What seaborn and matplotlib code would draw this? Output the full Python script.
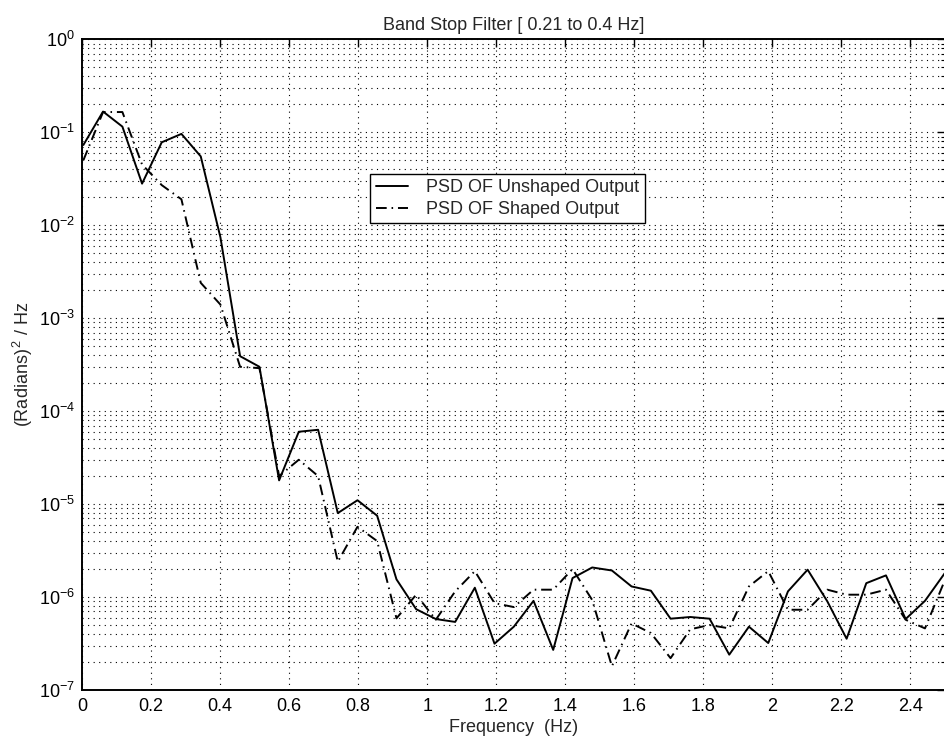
import matplotlib
matplotlib.use("Agg")
import matplotlib.pyplot as plt
import seaborn as sns
import pandas as pd
from matplotlib.ticker import (FixedLocator, FixedFormatter, NullFormatter,
                               NullLocator)

# ---------------- data ----------------
freq = [0.004, 0.061, 0.117, 0.174, 0.231, 0.288, 0.344, 0.401, 0.458, 0.514,
        0.571, 0.628, 0.684, 0.741, 0.798, 0.855, 0.911, 0.968, 1.025, 1.081,
        1.138, 1.195, 1.251, 1.308, 1.365, 1.421, 1.478, 1.535, 1.592, 1.648,
        1.705, 1.762, 1.818, 1.875, 1.932, 1.988, 2.045, 2.102, 2.159, 2.215,
        2.272, 2.329, 2.386, 2.442, 2.499]

psd_unshaped = [0.073, 0.167, 0.115, 0.028, 0.078, 0.096, 0.055, 0.0074, 3.9e-4, 3.0e-4,
                1.8e-5, 6.0e-5, 6.3e-5, 8.0e-6, 1.1e-5, 7.5e-6, 1.55e-6, 7.4e-7, 5.8e-7, 5.4e-7,
                1.26e-6, 3.15e-7, 4.8e-7, 9.1e-7, 2.7e-7, 1.6e-6, 2.08e-6, 1.93e-6, 1.3e-6, 1.17e-6,
                5.85e-7, 6.1e-7, 5.85e-7, 2.4e-7, 4.8e-7, 3.2e-7, 1.15e-6, 1.97e-6, 9.0e-7, 3.56e-7,
                1.41e-6, 1.71e-6, 5.8e-7, 9.1e-7, 1.8e-6]

psd_shaped = [0.05, 0.165, 0.165, 0.045, 0.027, 0.019, 0.0024, 0.0014, 3.0e-4, 2.9e-4,
              2.0e-5, 3.0e-5, 2.0e-5, 2.4e-6, 5.7e-6, 4.0e-6, 5.9e-7, 1.06e-6, 5.7e-7, 1.15e-6,
              1.9e-6, 8.6e-7, 7.8e-7, 1.2e-6, 1.2e-6, 2.0e-6, 9.3e-7, 1.8e-7, 5.2e-7, 4.1e-7,
              2.2e-7, 4.5e-7, 5.0e-7, 4.6e-7, 1.3e-6, 1.9e-6, 7.3e-7, 7.3e-7, 1.2e-6, 1.06e-6,
              1.06e-6, 1.2e-6, 5.7e-7, 4.6e-7, 1.5e-6]

x_ticks = [0, 0.2, 0.4, 0.6, 0.8, 1.0, 1.2, 1.4, 1.6, 1.8, 2.0, 2.2, 2.4]
x_tick_labels = ["0", "0.2", "0.4", "0.6", "0.8", "1", "1.2", "1.4", "1.6",
                 "1.8", "2", "2.2", "2.4"]
y_ticks = [1e-7, 1e-6, 1e-5, 1e-4, 1e-3, 1e-2, 1e-1, 1e0]
y_tick_labels = [r"$10^{-7}$", r"$10^{-6}$", r"$10^{-5}$", r"$10^{-4}$",
                 r"$10^{-3}$", r"$10^{-2}$", r"$10^{-1}$", r"$10^{0}$"]
y_minor_mult = [2, 3, 4, 5, 6, 7, 8, 9]

series_names = ["PSD OF Unshaped Output", "PSD OF Shaped Output"]
title_text = "Band Stop Filter [ 0.21 to 0.4 Hz]"
xlabel_text = "Frequency  (Hz)"
ylabel_text = r"(Radians)$^{\,2}$ / Hz"

# ---------------- style ----------------
sns.set_style("white")
plt.rcParams["font.family"] = ["Liberation Sans", "DejaVu Sans"]
plt.rcParams["mathtext.fontset"] = "custom"
plt.rcParams["mathtext.rm"] = "Liberation Sans"
plt.rcParams["mathtext.it"] = "Liberation Sans:italic"
plt.rcParams["mathtext.bf"] = "Liberation Sans:bold"
plt.rcParams["mathtext.default"] = "regular"

FS = 13

df = pd.DataFrame({
    "Frequency": freq + freq,
    "PSD": psd_unshaped + psd_shaped,
    "Series": [series_names[0]] * len(freq) + [series_names[1]] * len(freq),
})

fig = plt.figure(figsize=(9.44, 7.41), dpi=100)
ax = fig.add_axes([82 / 944, 51 / 741, 863 / 944, 650.7 / 741])

sns.lineplot(data=df, x="Frequency", y="PSD", hue="Series", style="Series",
             hue_order=series_names, style_order=series_names,
             palette={series_names[0]: "black", series_names[1]: "black"},
             dashes={series_names[0]: "", series_names[1]: (5.5, 2.5, 0.8, 2.5)},
             estimator=None, sort=False, linewidth=1.4, ax=ax)

ax.set_yscale("log")
ax.set_xlim(0, 2.5)
ax.set_ylim(1e-7, 1)
ax.xaxis.set_major_locator(FixedLocator(x_ticks))
ax.xaxis.set_major_formatter(FixedFormatter(x_tick_labels))
ax.xaxis.set_minor_locator(NullLocator())
ax.yaxis.set_major_locator(FixedLocator(y_ticks))
ax.yaxis.set_major_formatter(FixedFormatter(y_tick_labels))
minor_y = [m * t for t in y_ticks[:-1] for m in y_minor_mult]
ax.yaxis.set_minor_locator(FixedLocator(minor_y))
ax.yaxis.set_minor_formatter(NullFormatter())

grid_ls = (0, (1, 4))
ax.grid(True, which="major", axis="both", linestyle=grid_ls, color="black", linewidth=0.8)
ax.grid(True, which="minor", axis="y", linestyle=grid_ls, color="black", linewidth=0.8)

for sp in ax.spines.values():
    sp.set_linewidth(1.4)
    sp.set_color("black")

ax.tick_params(which="both", direction="in", top=True, right=True, colors="black",
               labelsize=FS)
ax.tick_params(which="major", length=6, width=1.0)
ax.tick_params(which="minor", length=3, width=0.8)
ax.tick_params(axis="x", pad=6)
ax.tick_params(axis="y", pad=5)

ax.set_title(title_text, fontsize=FS, pad=7)
ax.set_xlabel(xlabel_text, fontsize=FS, labelpad=3)
ax.set_ylabel(ylabel_text, fontsize=FS, labelpad=3)

handles, labels = ax.get_legend_handles_labels()
leg = ax.legend(handles, labels, loc="upper left", bbox_to_anchor=(0.334, 0.793),
                borderaxespad=0, fontsize=FS, frameon=True, fancybox=False,
                framealpha=1, edgecolor="black", handlelength=1.8,
                handletextpad=1.0, labelspacing=0.25, borderpad=0.3)
leg.get_frame().set_linewidth(1.0)

fig.savefig("out.png", dpi=100)
